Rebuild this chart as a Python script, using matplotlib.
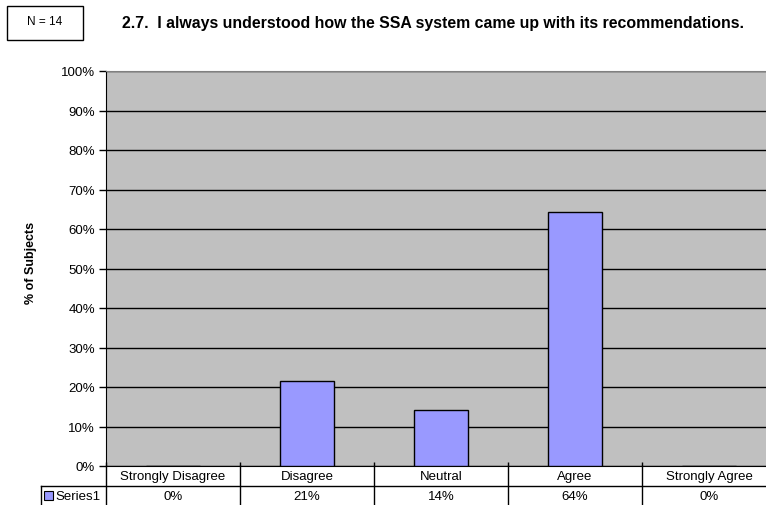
import numpy as np
import matplotlib.pyplot as plt
from matplotlib.patches import Rectangle
import matplotlib.transforms as mtransforms

plt.rcParams['font.family'] = ['Liberation Sans', 'DejaVu Sans']

# Respuestas (N = 14)
categories = ['Strongly Disagree', 'Disagree', 'Neutral', 'Agree', 'Strongly Agree']
values = [0.0, 21.4, 14.3, 64.3, 0.0]
value_labels = ['0%', '21%', '14%', '64%', '0%']
series_name = 'Series1'
n_text = 'N = 14'
title = '2.7.  I always understood how the SSA system came up with its recommendations.'

W, H = 766, 506
fig = plt.figure(figsize=(W / 100, H / 100), dpi=100)

# Area del grafico en pixeles (la derecha queda cortada como en Excel)
left, right, top, bottom = 106, 776, 72, 467
ax = fig.add_axes([left / W, (H - bottom) / H, (right - left) / W, (bottom - top) / H])
ax.set_facecolor('#C0C0C0')

x = np.arange(len(categories))
ax.bar(x, values, width=0.4, color='#9999FF', edgecolor='black', linewidth=1, zorder=3)

ax.set_xlim(-0.5, len(categories) - 0.5)
ax.set_ylim(0, 100)
ax.set_yticks(np.arange(0, 101, 10))
ax.set_yticklabels([f'{v}%' for v in range(0, 101, 10)], fontsize=9.5)
ax.yaxis.grid(True, color='black', linewidth=1)
ax.set_axisbelow(True)
ax.tick_params(axis='y', direction='out', length=5, width=1, pad=3)

# marcas de categoria en los limites de las columnas
ax.set_xticks(np.arange(-0.5, len(categories), 1.0))
ax.set_xticklabels([])
ax.tick_params(axis='x', direction='in', length=3, width=1)

ax.spines['top'].set_color('#808080')
ax.spines['right'].set_visible(False)
ax.spines['left'].set_color('black')
ax.spines['bottom'].set_color('black')

ax.set_ylabel('% of Subjects', fontsize=9, fontweight='bold')
ax.yaxis.set_label_coords(-(left - 37) / (right - left), (bottom - 263) / (bottom - top))

# Tabla de datos bajo el eje
trans = mtransforms.blended_transform_factory(ax.transData, ax.transAxes)
ph = bottom - top
r1 = -20 / ph
r2 = -40 / ph
x_leg = -0.5 - (left - 41) / (right - left) * len(categories)

line_kw = dict(color='black', linewidth=1, transform=trans, clip_on=False)
ax.plot([x_leg, len(categories) - 0.5], [r1, r1], **line_kw)
ax.plot([x_leg, len(categories) - 0.5], [r2, r2], **line_kw)
ax.plot([x_leg, x_leg], [r1, r2], **line_kw)
for b in np.arange(-0.5, len(categories), 1.0):
    ax.plot([b, b], [0, r2], **line_kw)

for i, (c, v) in enumerate(zip(categories, value_labels)):
    ax.text(i, r1 / 2, c, ha='center', va='center', fontsize=9.5, transform=trans)
    ax.text(i, (r1 + r2) / 2, v, ha='center', va='center', fontsize=9.5, transform=trans)

# leyenda de la serie
fig.patches.append(Rectangle((44 / W, (H - 501) / H), 9 / W, 9 / H, transform=fig.transFigure,
                             facecolor='#9999FF', edgecolor='black', linewidth=0.8))
fig.text(55 / W, (H - 497) / H, series_name, fontsize=9.5, ha='left', va='center')

# caja con N y titulo
fig.patches.append(Rectangle((7 / W, (H - 41) / H), 76 / W, 34 / H, transform=fig.transFigure,
                             facecolor='white', edgecolor='black', linewidth=1))
fig.text(45 / W, (H - 22) / H, n_text, fontsize=8.5, ha='center', va='center')
fig.text(122 / W, (H - 24) / H, title, fontsize=11.4, fontweight='bold', ha='left', va='center')

fig.savefig('out.png', dpi=100)
